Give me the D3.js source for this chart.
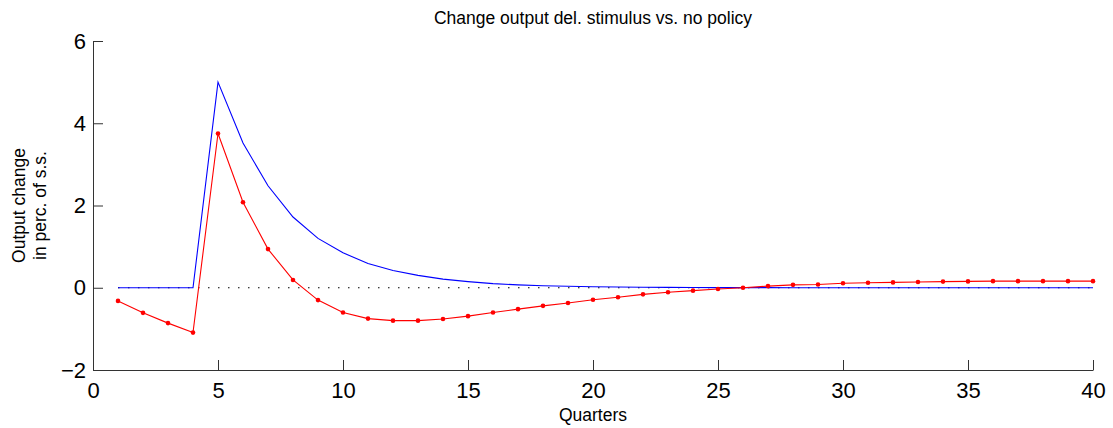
<!DOCTYPE html>
<html><head><meta charset="utf-8">
<script src="https://cdn.jsdelivr.net/npm/d3@7"></script>
<style>body{margin:0;background:#fff}svg{display:block}text{font-family:"Liberation Sans",Arial,Helvetica,sans-serif}</style>
</head><body>
<script>
const quarters = d3.range(1, 41);
const blueValues = [0,0,0,0,5.0,3.52,2.48,1.72,1.20,0.85,0.59,0.42,0.30,0.21,0.15,0.10,0.07,0.05,0.035,0.025,0.018,0.012,0.008,0.006,0.004,0.003,0.002,0.001,0.001,0,0,0,0,0,0,0,0,0,0,0];
const redValues = [-0.32,-0.61,-0.86,-1.09,3.75,2.08,0.94,0.19,-0.30,-0.60,-0.75,-0.80,-0.80,-0.76,-0.69,-0.60,-0.52,-0.44,-0.37,-0.29,-0.23,-0.16,-0.11,-0.07,-0.03,0.0,0.04,0.07,0.08,0.11,0.12,0.13,0.14,0.15,0.155,0.16,0.16,0.16,0.16,0.16];
const xTicks = [0,5,10,15,20,25,30,35,40];
const yTicks = [-2,0,2,4,6];
const title = "Change output del. stimulus vs. no policy";
const xLabel = "Quarters";
const yLabel = ["Output change", "in perc. of s.s."];

const W = 1113, H = 428;
const m = {left: 93, right: 20, top: 41, bottom: 58};
const svg = d3.select("body").append("svg").attr("width", W).attr("height", H);
const x = d3.scaleLinear().domain([0, 40]).range([m.left, W - m.right]);
const y = d3.scaleLinear().domain([-2, 6]).range([H - m.bottom, m.top]);

// zero dotted line
svg.append("line").attr("x1", x(1)).attr("x2", x(40)).attr("y1", y(0)).attr("y2", y(0))
  .attr("stroke", "#000").attr("stroke-width", 1).attr("stroke-dasharray", "1.5,8.5");

const line = d3.line().x((d, i) => x(quarters[i])).y(d => y(d));
svg.append("path").datum(blueValues).attr("d", line).attr("fill", "none").attr("stroke", "#0000ff").attr("stroke-width", 1.1);
svg.append("path").datum(redValues).attr("d", line).attr("fill", "none").attr("stroke", "#ff0000").attr("stroke-width", 1.1);
svg.selectAll("circle.r").data(redValues).join("circle").attr("class", "r")
  .attr("cx", (d, i) => x(quarters[i])).attr("cy", d => y(d)).attr("r", 2.3).attr("fill", "#ff0000");

// axes
const xAxis = d3.axisBottom(x).tickValues(xTicks).tickSizeInner(-10).tickSizeOuter(0).tickPadding(12);
const gx = svg.append("g").attr("transform", `translate(0,${y(-2)})`).call(xAxis);
gx.selectAll("text").attr("font-size", 22).attr("fill", "#000").attr("font-family", '"Liberation Sans",Arial,sans-serif');
gx.select(".domain").attr("stroke", "#333");
gx.selectAll(".tick line").attr("stroke", "#333");

const yAxis = d3.axisLeft(y).tickValues(yTicks).tickFormat(d => d < 0 ? "\u2212" + Math.abs(d) : d).tickSizeInner(-10).tickSizeOuter(0).tickPadding(7);
const gy = svg.append("g").attr("transform", `translate(${x(0)},0)`).call(yAxis);
gy.selectAll("text").attr("font-size", 22).attr("fill", "#000").attr("font-family", '"Liberation Sans",Arial,sans-serif');
gy.select(".domain").attr("stroke", "#333");
gy.selectAll(".tick line").attr("stroke", "#333");

svg.append("text").attr("x", (x(0) + x(40)) / 2).attr("y", 24).attr("text-anchor", "middle").attr("font-size", 17.5).text(title);
svg.append("text").attr("x", (x(0) + x(40)) / 2).attr("y", 421).attr("text-anchor", "middle").attr("font-size", 17.5).text(xLabel);
const yl = svg.append("text").attr("transform", `translate(25,205.5) rotate(-90)`).attr("text-anchor", "middle").attr("font-size", 17.5);
yl.append("tspan").attr("x", 0).attr("dy", 0).text(yLabel[0]);
yl.append("tspan").attr("x", 0).attr("dy", 21).text(yLabel[1]);
</script>
</body></html>
